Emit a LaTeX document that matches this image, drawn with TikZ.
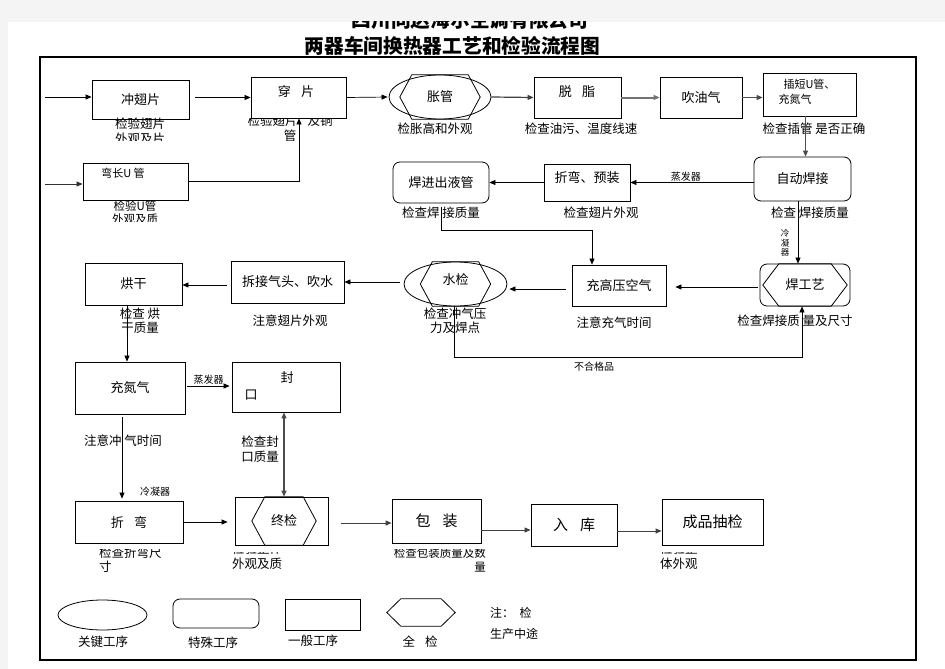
\documentclass[tikz,border=0pt]{standalone}
\usepackage{fontspec}
\setmainfont{Noto Sans CJK SC}
\usetikzlibrary{shapes.geometric,arrows.meta,calc}
\definecolor{pagegray}{HTML}{F4F4F4}
\newcommand{\hexa}[2]{%
  \draw[line width=0.8pt] (#1.west) -- ([xshift=#2]#1.north west) -- ([xshift=-#2]#1.north east)
    -- (#1.east) -- ([xshift=-#2]#1.south east) -- ([xshift=#2]#1.south west) -- cycle;}
\newcommand{\gap}{\hspace{0.8em}}
\begin{document}
\begin{tikzpicture}[x=1pt,y=-1pt]
	\path [use as bounding box] (0,0) rectangle (945,669);
	\tikzstyle{every node} = [font=\fontsize{13}{15}\selectfont, inner sep=1pt]
	\tikzstyle{proc} = [draw, line width=0.8pt, rectangle]
	\tikzstyle{spec} = [draw, line width=0.8pt, rounded corners=7pt]
	\tikzstyle{keyp} = [draw, line width=0.8pt, ellipse]
	\tikzstyle{hexn} = [inner sep=0pt]
	\tikzstyle{note} = [font=\fontsize{12.5}{14.5}\selectfont, align=center]
	\tikzstyle{tiny} = [font=\fontsize{10}{12}\selectfont]
	\tikzstyle{arr} = [-{Triangle[length=6pt,width=5pt]}, line width=0.7pt]
	% page and title
	\fill[pagegray] (0,0) rectangle (945,669);
	\fill[white] (8,22) rectangle (945,669);
	\begin{scope}
		\clip (8,22) rectangle (945,669);
		\node[font=\fontsize{19.7}{22}\selectfont\bfseries] (title1) at (470,20) {四川同达海尔空调有限公司};
	\end{scope}
	\node[font=\fontsize{19.7}{22}\selectfont\bfseries] (title2) at (452.5,45.5) {两器车间换热器工艺和检验流程图};
	\draw[line width=2pt] (40,57) rectangle (916,660);

	% row 1
	\node[proc, minimum width=97pt, minimum height=39pt] (chong) at (140.5,99.5) {冲翅片};
	\node[proc, minimum width=95pt, minimum height=41pt] (chuan) at (298.5,97.5) {};
	\node (chuant) at (296,92) {穿\gap 片};
	\node[keyp, minimum width=102pt, minimum height=44pt] (zhang) at (440,97) {};
	\node[hexn, minimum width=80pt, minimum height=44pt] (zhangh) at (440,97) {胀管};
	\hexa{zhangh}{12pt}
	\node[proc, minimum width=87pt, minimum height=41pt] (tuozhi) at (577.5,97.5) {};
	\node (tuozhit) at (577,92) {脱\gap 脂};
	\node[proc, minimum width=82pt, minimum height=41pt] (chuiyou) at (701,97.5) {吹油气};
	\node[proc, minimum width=93pt, minimum height=43pt] (chaduan) at (809.5,94.5) {};
	\node[font=\fontsize{11}{15}\selectfont, align=left] (chaduant) at (807,92) {\ \ 插短U管、\\充氮气};

	% row 2
	\node[proc, minimum width=105pt, minimum height=37pt] (wanchang) at (135.5,181.5) {};
	\node[font=\fontsize{11}{13}\selectfont] (wanchangt) at (123,173) {弯长U 管};
	\node[spec, minimum width=96pt, minimum height=41pt] (hanjin) at (441,182.5) {焊进出液管};
	\node[proc, minimum width=86pt, minimum height=37pt] (zheyu) at (587,182.5) {};
	\node (zheyut) at (587,178) {折弯、预装};
	\node[spec, minimum width=97pt, minimum height=44pt] (zidong) at (802.5,179) {自动焊接};

	% row 3
	\node[proc, minimum width=97pt, minimum height=42pt] (honggan) at (133.5,284) {烘干};
	\node[proc, minimum width=113pt, minimum height=42pt] (chaijie) at (287.5,282) {拆接气头、吹水};
	\node[keyp, minimum width=103pt, minimum height=44pt] (shuijian) at (455.5,284) {};
	\node[hexn, minimum width=70pt, minimum height=44pt] (shuijianh) at (455.5,284) {};
	\node (shuijiant) at (455.5,280) {水检};
	\hexa{shuijianh}{12pt}
	\node[proc, minimum width=94pt, minimum height=41pt] (chonggao) at (619,285.5) {充高压空气};
	\node[spec, minimum width=90pt, minimum height=42pt] (hangy) at (805,285) {};
	\node[hexn, minimum width=84pt, minimum height=42pt] (hangyh) at (805,285) {焊工艺};
	\hexa{hangyh}{16pt}

	% row 4
	\node[proc, minimum width=110pt, minimum height=52pt] (chongdan) at (130,388) {充氮气};
	\node[proc, minimum width=108pt, minimum height=50pt] (fengkou) at (286,387) {};
	\node (fengkoua) at (287,378) {封};
	\node (fengkoub) at (251,395) {口};

	% row 5
	\node[proc, minimum width=108pt, minimum height=42pt] (zhewan) at (129,522) {折\gap 弯};
	\node[proc, minimum width=93pt, minimum height=48pt] (zhongjian) at (281.5,521) {};
	\node[hexn, minimum width=64pt, minimum height=48pt] (zhongjianh) at (284,521) {终检};
	\hexa{zhongjianh}{13pt}
	\node[proc, minimum width=89pt, minimum height=44pt, font=\fontsize{15}{17}\selectfont] (baozhuang) at (436.5,521) {包\gap 装};
	\node[proc, minimum width=86pt, minimum height=42pt, font=\fontsize{15}{17}\selectfont] (ruku) at (574,525) {入\gap 库};
	\node[proc, minimum width=101pt, minimum height=46pt, font=\fontsize{15}{17}\selectfont] (chengpin) at (712.5,522) {成品抽检};

	% inspection notes
	\begin{scope}
		\clip (80,114) rectangle (200,140);
		\node[note] (nchong) at (140,131) {检验翅片\\外观及片};
	\end{scope}
	\begin{scope}
		\clip (240,118.5) rectangle (360,145);
		\node[note] (nchuan) at (290,128) {检验翅片\gap 及铜\\管};
	\end{scope}
	\node[note] (nzhang) at (435,129) {检胀高和外观};
	\node[note] (ntuozhi) at (581,129) {检查油污、温度线速};
	\node[note] (nchaduan) at (814,129) {检查插管\ 是否正确};
	\begin{scope}
		\clip (90,201) rectangle (190,221);
		\node[note, font=\fontsize{11.5}{13}\selectfont] (nwanchang) at (135,213) {检验U管\\外观及质};
	\end{scope}
	\node[note] (nhanjin) at (441,213) {检查焊\ 接质量};
	\node[note] (nzheyu) at (601,213) {检查翅片外观};
	\node[note] (nzidong) at (810,213) {检查\ 焊接质量};
	\node[note] (nhonggan) at (140,320.5) {检查\ 烘\\干质量};
	\node[note] (nchaijie) at (290,321) {注意翅片外观};
	\node[note] (nshuijian) at (455,320.5) {检查冲气压\\力及焊点};
	\node[note] (nchonggao) at (614,323) {注意充气时间};
	\node[note] (nhangy) at (795,321) {检查焊接质\ 量及尺寸};
	\node[note] (nchongdan) at (123,441) {注意冲\ 气时间};
	\node[note] (nfengkou) at (260,449) {检查封\\口质量};
	\begin{scope}
		\clip (90,549) rectangle (200,574);
		\node[note, align=left, anchor=west] (nzhewan) at (98,559.5) {检查折弯尺\\寸};
	\end{scope}
	\begin{scope}
		\clip (225,552) rectangle (340,575);
		\node[note, align=left, anchor=west] (nzhongjian) at (231,556) {检验整体\\外观及质};
	\end{scope}
	\begin{scope}
		\clip (370,549) rectangle (495,575);
		\node[note, align=right, anchor=east, font=\fontsize{11.5}{14}\selectfont] (nbaozhuang) at (487,559.5) {检查包装质量及数\\量};
	\end{scope}
	\begin{scope}
		\clip (650,552) rectangle (760,575);
		\node[note, align=left, anchor=west] (nchengpin) at (659,556) {检验整\\体外观};
	\end{scope}

	% connectors
	\coordinate (in1) at (45,97);
	\coordinate (in2) at (45,184);
	\draw[arr] (in1) -- (in1 -| chong.west);
	\draw[arr, shorten <=6pt] (chong.east |- chuan.west) -- (chuan.west);
	\draw[arr, shorten >=1pt] (chuan.east) -- (zhang.west);
	\draw[arr, line width=1.2pt, black!75] (zhang.east) -- (tuozhi.west);
	\draw[arr, line width=2pt, black!55] (tuozhi.east) -- (chuiyou.west);
	\draw[arr, line width=1.2pt, black!70] (chuiyou.east) -- (chuiyou.east -| chaduan.west);
	\draw[arr, line width=1.2pt, black!70] ([xshift=-4pt]chaduan.south) -- ([xshift=-4pt]chaduan.south |- zidong.north);
	\draw[arr, black!80] (in2) -- (in2 -| wanchang.west);
	\draw[arr] (wanchang.east) -| ([xshift=0.5pt]chuan.south);
	\draw[arr] (zidong.west |- zheyu.east) -- node[tiny, above, pos=0.55] (zheng1) {蒸发器} (zheyu.east);
	\draw[arr] (zheyu.west) -- (hanjin.east);
	\draw[arr] ([yshift=-4pt]hanjin.south) -- ++(0,23) -| ([xshift=-27pt]chonggao.north);
	\draw[arr] ([xshift=-4.5pt]zidong.south) -- ([xshift=-4.5pt]zidong.south |- hangy.north);
	\node[font=\fontsize{8.5}{9.5}\selectfont, align=center] (leng1) at (785,243) {冷\\凝\\器};
	\draw[arr, shorten <=2pt, shorten >=9pt] (hangy.west |- 0,287) -- (chonggao.east |- 0,287);
	\draw[arr, shorten <=6pt, shorten >=2pt] (chonggao.west |- 0,289) -- (shuijian.east |- 0,289);
	\draw[arr, shorten <=4pt] (shuijian.west |- chaijie.east) -- (chaijie.east);
	\draw[arr, shorten <=4pt] (chaijie.west |- 0,285) -- (honggan.east |- 0,285);
	\draw[arr] ([xshift=-1.5pt]shuijian.south) -- ++(0,51) -| ([xshift=-3pt]hangy.south);
	\node[tiny] (buhege) at (594,367) {不合格品};
	\draw[arr] ([xshift=-6.5pt]honggan.south) -- ([xshift=-6.5pt]honggan.south |- chongdan.north);
	\draw[arr, shorten <=2pt, shorten >=2pt] (chongdan.east |- 0,386) -- node[tiny, above] (zheng2) {蒸发器} (fengkou.west |- 0,386);
	\draw[arr, shorten <=3pt, shorten >=2pt] ([xshift=-8pt]chongdan.south) -- ([xshift=-8pt]chongdan.south |- zhewan.north);
	\node[tiny] (leng2) at (155,492) {冷凝器};
	\draw[{Triangle[length=6pt,width=5pt]}-{Triangle[length=6pt,width=5pt]}, line width=1.2pt, black!70] ([xshift=-2pt]fengkou.south) -- ([xshift=-2pt]fengkou.south |- zhongjian.north);
	\draw[arr, shorten <=1pt, shorten >=7pt] (zhewan.east) -- (zhongjian.west |- zhewan.east);
	\draw[arr, line width=1pt, black!75, shorten <=13pt] (zhongjian.east |- 0,523) -- (baozhuang.west |- 0,523);
	\draw[arr, line width=1pt, black!75] (baozhuang.east |- 0,530) -- (ruku.west |- 0,530);
	\draw[arr, line width=1pt, black!75] (ruku.east |- 0,531) -- (chengpin.west |- 0,531);

	% legend
	\node[keyp, minimum width=89pt, minimum height=30pt] (lgkey) at (102.5,615) {};
	\node[spec, minimum width=86pt, minimum height=29pt] (lgspec) at (216,613.5) {};
	\node[proc, minimum width=75pt, minimum height=31pt] (lgproc) at (322.5,614.5) {};
	\node[hexn, minimum width=68pt, minimum height=27pt] (lghex) at (421,612.5) {};
	\hexa{lghex}{14pt}
	\node[note] at (103,642) {关键工序};
	\node[note] at (213,643) {特殊工序};
	\node[note] at (313,641) {一般工序};
	\node[note] at (420,642) {全\gap 检};
	\node[note, align=left, anchor=west, font=\fontsize{12}{21}\selectfont] (lgnote) at (489,623.5) {注：\ \ 检\\生产中途};
\end{tikzpicture}
\end{document}
